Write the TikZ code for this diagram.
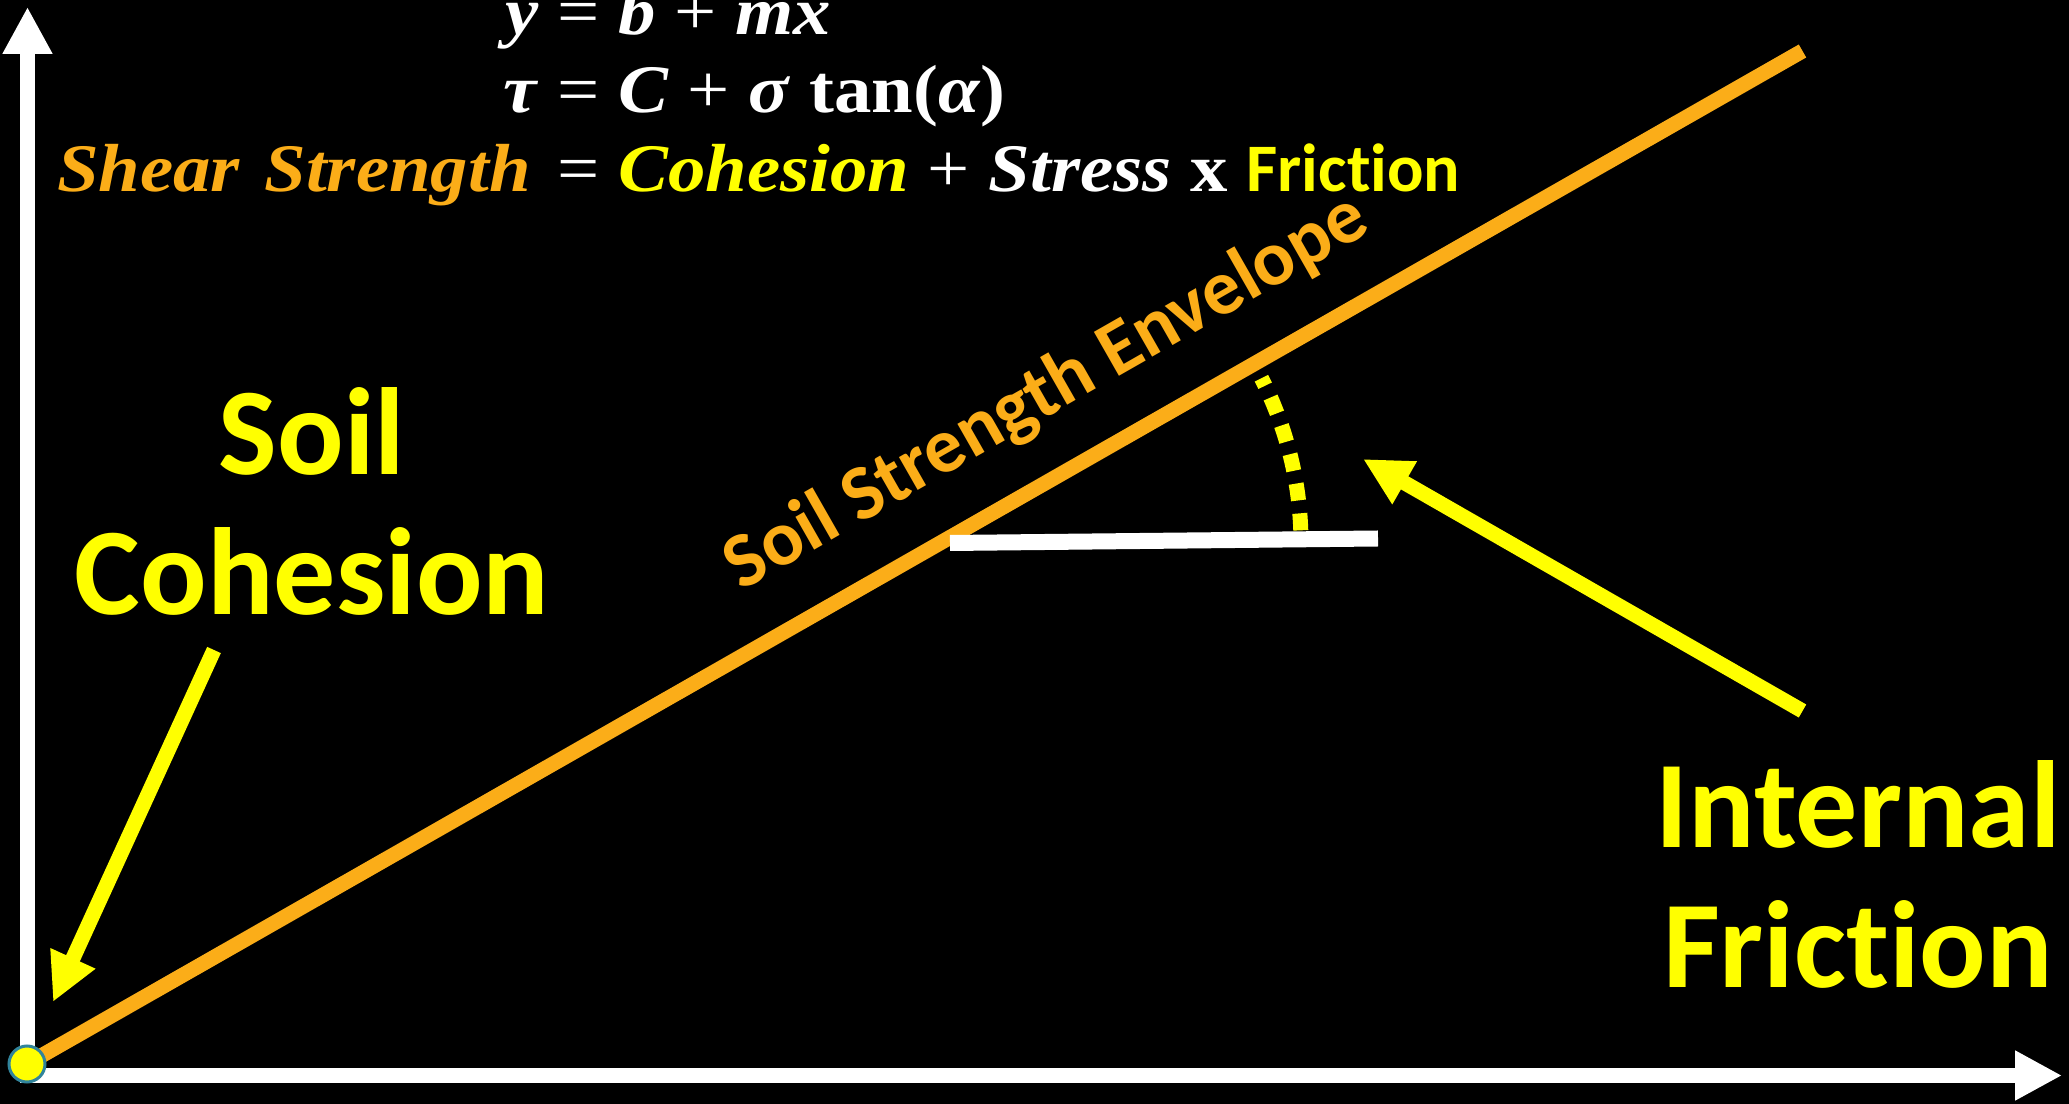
\documentclass[tikz,border=0pt]{standalone}
\usepackage{fontspec}
\usepackage{xcolor}
\usepackage{tikz}
\usetikzlibrary{arrows.meta, positioning}
\newfontfamily\calfont[Ligatures=NoCommon]{Carlito}
\newfontfamily\eqfont[FakeStretch=1.1]{Liberation Serif}
\definecolor{envorange}{HTML}{FBAD18}
\definecolor{hiyellow}{HTML}{FFFF00}
\definecolor{rimteal}{HTML}{31849B}

\tikzset{
  axisline/.style={white, line width=7.5pt, -{Triangle[length=23.5pt, width=23.5pt]}},
  pointer/.style={hiyellow, line width=7.5pt, -{Triangle[length=24pt, width=23pt]}},
  envelope/.style={envorange, line width=7.5pt},
  bigword/.style={hiyellow, align=center, inner sep=0pt, font=\calfont\bfseries\fontsize{62}{70}\selectfont},
  eqline/.style={white, anchor=base west, inner sep=0pt, font=\eqfont\bfseries\fontsize{34}{40}\selectfont}
}
\newcommand{\rel}[1]{{\mdseries #1}}

\begin{document}
\begin{tikzpicture}[x=0.5pt, y=0.5pt]
  \fill[black] (0,0) rectangle (2069,1104);
  \useasboundingbox (0,0) rectangle (2069,1104);
  % axes
  \coordinate (ybottom) at (27.5,21);
  \coordinate (ytop) at (27.5,1097);
  \coordinate (xstart) at (20,28.5);
  \coordinate (xend) at (2062,28.5);
  \draw[axisline] (ybottom) -- (ytop);
  \draw[axisline] (xstart) -- (xend);
  % envelope
  \coordinate (pivot) at (27,40);
  \coordinate (envtop) at (1802.5,1053);
  \draw[envelope] (pivot) -- node[pos=0.596, sloped, above=17.8pt, inner sep=0pt, envorange,
    font=\calfont\bfseries\fontsize{39}{44}\selectfont] (envlabel) {Soil Strength Envelope} (envtop);
  \node[circle, fill=hiyellow, draw=rimteal, line width=1.5pt, minimum size=18pt, inner sep=0pt] (origin) at (pivot) {};
  % angle
  \coordinate (vertex) at (938,561);
  \coordinate (hstart) at (950,561);
  \coordinate (hend) at (1378,565.5);
  \draw[white, line width=8pt] (hstart) -- (hend);
  \draw[hiyellow, line width=7.5pt, dash pattern=on 8.5pt off 6.5pt]
    ([shift={(2:181.5pt)}]vertex) arc[start angle=2, end angle=27, radius=181.5pt];
  % pointers
  \coordinate (cohtail) at (214,454);
  \coordinate (cohtip) at (53,102);
  \coordinate (fritail) at (1802.5,393);
  \coordinate (fritip) at (1363,645);
  \draw[pointer] (cohtail) -- (cohtip);
  \draw[pointer] (fritail) -- (fritip);
  \node[bigword, anchor=base] (cohesion) at (312,489) {Soil\\Cohesion};
  \node[bigword, anchor=base] (friction) at (1858,116) {Internal\\Friction};
  % equations
  \node[eqline] (eqline) at (557,1069) {\llap{\textit{y}\ }\rel{=} \textit{b} \rel{+} \textit{mx}};
  \node[eqline] (eqtau) at (557,991) {\llap{\textit{τ}\ }\rel{=} \textit{C} \rel{+} \textit{σ} tan(\textit{α})};
  \node[eqline] (eqword) at (557,912) {\llap{\textcolor{envorange}{\textit{Shear\hspace{3pt} Strength}}\hspace{4pt}\ }\rel{=} \textcolor{hiyellow}{\textit{Cohesion}} \rel{+} \textit{Stress} x \textcolor{hiyellow}{\calfont Friction}};
\end{tikzpicture}
\end{document}
